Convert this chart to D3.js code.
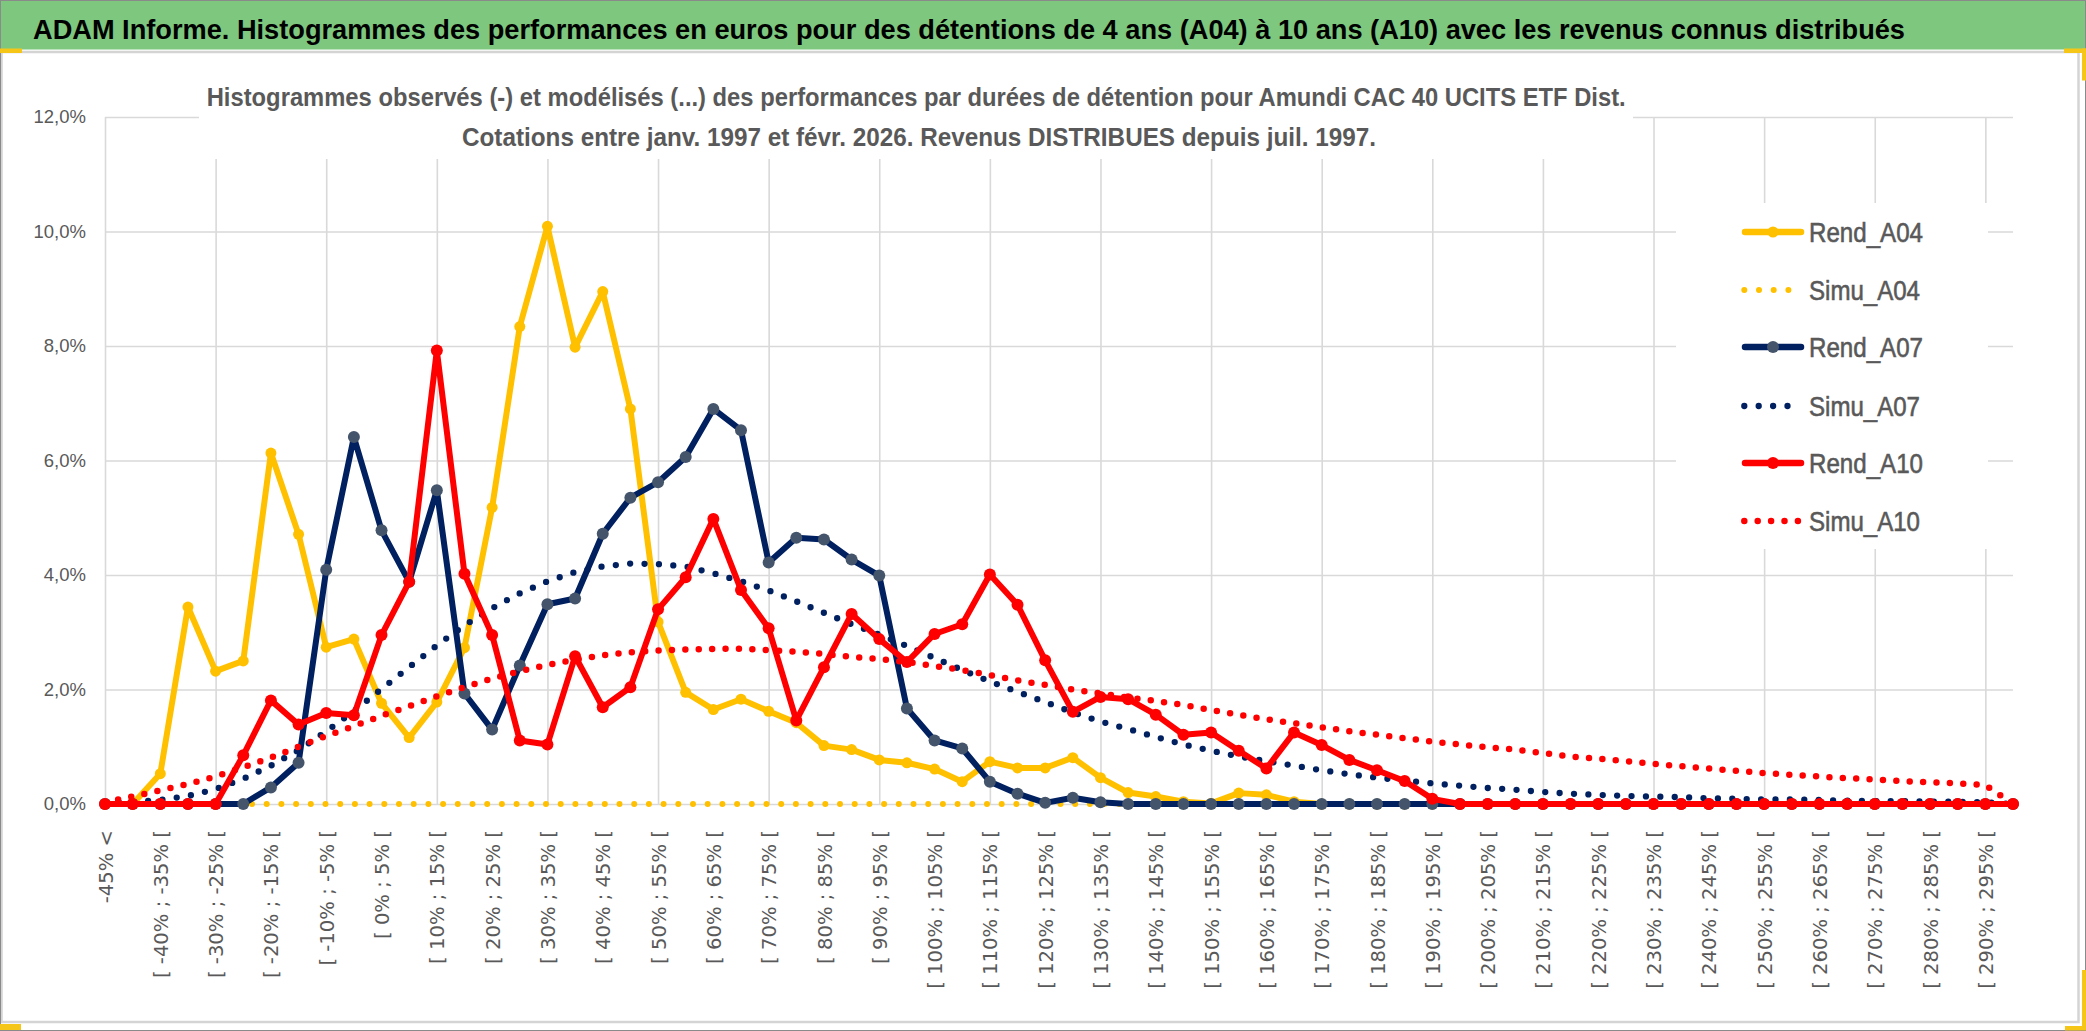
<!DOCTYPE html>
<html><head><meta charset="utf-8">
<script src="https://cdn.jsdelivr.net/npm/d3@7"></script>
<style>body{margin:0;background:#fff}svg{display:block}</style>
</head><body>
<svg id="chart" width="2086" height="1031"></svg>
<script>
// ---------- DATA ----------
const categories = [
"-45% <","[ -45% ; -40% [","[ -40% ; -35% [","[ -35% ; -30% [","[ -30% ; -25% [","[ -25% ; -20% [",
"[ -20% ; -15% [","[ -15% ; -10% [","[ -10% ; -5% [","[ -5% ; 0% [","[ 0% ; 5% [","[ 5% ; 10% [",
"[ 10% ; 15% [","[ 15% ; 20% [","[ 20% ; 25% [","[ 25% ; 30% [","[ 30% ; 35% [","[ 35% ; 40% [",
"[ 40% ; 45% [","[ 45% ; 50% [","[ 50% ; 55% [","[ 55% ; 60% [","[ 60% ; 65% [","[ 65% ; 70% [",
"[ 70% ; 75% [","[ 75% ; 80% [","[ 80% ; 85% [","[ 85% ; 90% [","[ 90% ; 95% [","[ 95% ; 100% [",
"[ 100% ; 105% [","[ 105% ; 110% [","[ 110% ; 115% [","[ 115% ; 120% [","[ 120% ; 125% [","[ 125% ; 130% [",
"[ 130% ; 135% [","[ 135% ; 140% [","[ 140% ; 145% [","[ 145% ; 150% [","[ 150% ; 155% [","[ 155% ; 160% [",
"[ 160% ; 165% [","[ 165% ; 170% [","[ 170% ; 175% [","[ 175% ; 180% [","[ 180% ; 185% [","[ 185% ; 190% [",
"[ 190% ; 195% [","[ 195% ; 200% [","[ 200% ; 205% [","[ 205% ; 210% [","[ 210% ; 215% [","[ 215% ; 220% [",
"[ 220% ; 225% [","[ 225% ; 230% [","[ 230% ; 235% [","[ 235% ; 240% [","[ 240% ; 245% [","[ 245% ; 250% [",
"[ 250% ; 255% [","[ 255% ; 260% [","[ 260% ; 265% [","[ 265% ; 270% [","[ 270% ; 275% [","[ 275% ; 280% [",
"[ 280% ; 285% [","[ 285% ; 290% [","[ 290% ; 295% [","[ 295% ; 300% ["
];

// values in percent
const rendA04 = [0,0,0.53,3.44,2.32,2.50,6.13,4.71,2.74,2.88, 1.76,1.16,1.78,2.73,5.18,8.34,10.09,7.98,8.95,6.90,
 3.18,1.95,1.65,1.83,1.62,1.42,1.02,0.95,0.77,0.72, 0.61,0.39,0.74,0.63,0.63,0.81,0.46,0.20,0.13,0.04,
 0.01,0.19,0.16,0.04,0,0,0,0,0,0, 0,0,0,0,0,0,0,0,0,0, 0,0,0,0,0,0,0,0,0,0];
const simuA04 = [0,0,0,0,0,0,0,0,0,0, 0,0,0,0,0,0,0,0,0,0, 0,0,0,0,0,0,0,0,0,0, 0,0,0,0,0,0,0,0,0,0,
 0,0,0,0,0,0,0,0,0,0, 0,0,0,0,0,0,0,0,0,0, 0,0,0,0,0,0,0,0,0,0];
const rendA07 = [0,0,0,0,0,0,0.29,0.72,4.09,6.41, 4.78,3.88,5.48,1.93,1.30,2.42,3.49,3.59,4.72,5.35,
 5.62,6.06,6.90,6.53,4.22,4.65,4.62,4.27,3.99,1.67, 1.11,0.97,0.39,0.18,0.02,0.11,0.03,0,0,0,
 0,0,0,0,0,0,0,0,0,0, 0,0,0,0,0,0,0,0,0,0, 0,0,0,0,0,0,0,0,0,0];
const simuA07 = [0.01,0.03,0.07,0.14,0.26,0.44,0.67,0.94,1.27,1.62, 2.01,2.39,2.77,3.12,3.42,3.68,3.89,4.05,4.15,4.20,
 4.19,4.15,4.03,3.89,3.73,3.54,3.34,3.14,2.96,2.76, 2.55,2.34,2.14,1.96,1.78,1.60,1.44,1.31,1.17,1.04,
 0.93,0.83,0.75,0.67,0.59,0.52,0.46,0.41,0.36,0.32, 0.28,0.25,0.21,0.18,0.16,0.14,0.13,0.12,0.10,0.09,
 0.08,0.08,0.07,0.06,0.05,0.05,0.04,0.04,0.03,0];
const rendA10 = [0,0,0,0,0,0.85,1.81,1.39,1.59,1.55, 2.95,3.88,7.92,4.02,2.95,1.11,1.04,2.58,1.69,2.04,
 3.40,3.96,4.98,3.74,3.07,1.46,2.39,3.32,2.88,2.48, 2.97,3.14,4.01,3.48,2.51,1.61,1.87,1.83,1.56,1.21,
 1.25,0.93,0.62,1.25,1.03,0.77,0.59,0.40,0.09,0, 0,0,0,0,0,0,0,0,0,0, 0,0,0,0,0,0,0,0,0,0];
const simuA10 = [0.03,0.13,0.24,0.35,0.48,0.64,0.81,1.00,1.19,1.36, 1.54,1.71,1.88,2.04,2.19,2.32,2.43,2.52,2.60,2.65,
 2.68,2.70,2.71,2.71,2.69,2.66,2.62,2.57,2.53,2.48, 2.41,2.34,2.25,2.16,2.08,2.00,1.93,1.86,1.80,1.73,
 1.64,1.56,1.48,1.41,1.34,1.27,1.21,1.15,1.09,1.04, 0.99,0.95,0.89,0.83,0.79,0.75,0.70,0.66,0.62,0.58,
 0.54,0.51,0.48,0.45,0.43,0.40,0.38,0.36,0.33,0];

const seriesNames = ["Rend_A04","Simu_A04","Rend_A07","Simu_A07","Rend_A10","Simu_A10"];
const yTicks = [0,2,4,6,8,10,12];
const titleText = "ADAM Informe. Histogrammes des performances en euros pour des détentions de 4 ans (A04) à 10 ans (A10) avec les revenus connus distribués";
const subtitleLines = [
 "Histogrammes observés (-) et modélisés (...) des performances par durées de détention pour Amundi CAC 40 UCITS ETF Dist.",
 "Cotations entre janv. 1997 et févr. 2026. Revenus DISTRIBUES depuis juil. 1997."
];

// ---------- SETUP ----------
const svg = d3.select("#chart");
const plot = {left:105, right:2013, top:117, bottom:804};
const x = d3.scalePoint().domain(categories).range([plot.left, plot.right]);
const y = d3.scaleLinear().domain([0, 12]).range([plot.bottom, plot.top]);
const CAL = "'Liberation Sans', Arial, sans-serif";
const GREY = "#595959";

svg.append("rect").attr("width",2086).attr("height",1031).attr("fill","#fff");
// title bar
svg.append("rect").attr("x",0).attr("y",0).attr("width",2086).attr("height",49.5).attr("fill","#7DC87E");
svg.append("text").attr("x",33).attr("y",38.5).attr("font-family",CAL).attr("font-weight","bold")
  .attr("font-size",28.5).attr("fill","#000").attr("textLength",1872).attr("lengthAdjust","spacingAndGlyphs").text(titleText);
// chart border
svg.append("rect").attr("x",1.5).attr("y",52).attr("width",2077).attr("height",970)
  .attr("fill","none").attr("stroke","#D4D4D4").attr("stroke-width",2.5);
svg.append("rect").attr("x",0.5).attr("y",0.5).attr("width",2085).attr("height",1030)
  .attr("fill","none").attr("stroke","#8A8A8A").attr("stroke-width",1);

// horizontal grid + y labels
svg.append("g").attr("transform",`translate(${plot.left},0)`)
  .call(d3.axisLeft(y).tickValues(yTicks).tickSize(-(plot.right-plot.left)).tickPadding(19)
        .tickFormat(d => d3.format(".1f")(d).replace(".", ",") + "%"))
  .call(g => g.select(".domain").remove())
  .call(g => g.selectAll(".tick line").attr("stroke","#D9D9D9").attr("stroke-width",1.6))
  .call(g => g.selectAll(".tick text").attr("font-family",CAL).attr("font-size",18.5).attr("fill",GREY));

// vertical grid
const gridCats = categories.filter((d,i) => i % 4 === 0);
svg.append("g").attr("transform",`translate(0,${plot.bottom})`)
  .call(d3.axisBottom(x).tickValues(gridCats).tickSize(-(plot.bottom-plot.top)).tickFormat(""))
  .call(g => g.select(".domain").remove())
  .call(g => g.selectAll(".tick line").attr("stroke","#D9D9D9").attr("stroke-width",1.6));

// x labels
const labelCats = categories.filter((d,i) => i % 2 === 0);
svg.append("g").attr("transform",`translate(0,${plot.bottom})`)
  .call(d3.axisBottom(x).tickValues(labelCats).tickSize(0))
  .call(g => g.select(".domain").remove())
  .call(g => g.selectAll(".tick text")
     .attr("transform","rotate(-90)").attr("text-anchor","end")
     .attr("x",-26).attr("y",0).attr("dy","0.36em")
     .attr("font-family","'DejaVu Sans', Verdana, sans-serif").attr("font-size",19.6).attr("fill",GREY));

// subtitle box
svg.append("rect").attr("x",199).attr("y",56).attr("width",1434).attr("height",103).attr("fill","#fff");
svg.append("text").attr("x",206.7).attr("y",106).attr("font-family",CAL).attr("font-weight","bold")
  .attr("font-size",26).attr("fill",GREY).attr("textLength",1419).attr("lengthAdjust","spacingAndGlyphs").text(subtitleLines[0]);
svg.append("text").attr("x",462).attr("y",146).attr("font-family",CAL).attr("font-weight","bold")
  .attr("font-size",26).attr("fill",GREY).attr("textLength",914).attr("lengthAdjust","spacingAndGlyphs").text(subtitleLines[1]);

// ---------- SERIES ----------
const styles = {
  "Rend_A04": {data: rendA04, color:"#FFC000", width:6, marker:"#FFC000", r:5.5},
  "Simu_A04": {data: simuA04, color:"#FFC000", width:6, dash:14.7},
  "Rend_A07": {data: rendA07, color:"#002060", width:6, marker:"#44546A", r:6},
  "Simu_A07": {data: simuA07, color:"#002060", width:6.3, dash:14.4},
  "Rend_A10": {data: rendA10, color:"#FF0000", width:6, marker:"#FF0000", r:6},
  "Simu_A10": {data: simuA10, color:"#FF0000", width:6.5, dash:13.4}
};
const line = d3.line().x((d,i) => x(categories[i])).y(d => y(d));
seriesNames.forEach(name => {
  const s = styles[name];
  const g = svg.append("g");
  const p = g.append("path").datum(s.data).attr("d", line).attr("fill","none")
    .attr("stroke", s.color).attr("stroke-width", s.width)
    .attr("stroke-linejoin","round").attr("stroke-linecap","round");
  if (s.dash) p.attr("stroke-dasharray", `0 ${s.dash}`);
  if (s.marker) {
    g.selectAll("circle").data(s.data).join("circle")
      .attr("cx",(d,i) => x(categories[i])).attr("cy", d => y(d)).attr("r", s.r)
      .attr("fill", s.marker);
  }
});

// ---------- LEGEND ----------
svg.append("rect").attr("x",1676).attr("y",203).attr("width",312).attr("height",346).attr("fill","#fff");
const legY = [232,290,347,406,463,521];
const legW = [114,111,114,111,114,111];
seriesNames.forEach((name,k) => {
  const s = styles[name];
  const yy = legY[k];
  const g = svg.append("g");
  if (s.dash) {
    g.append("line").attr("x1",1744.3).attr("x2",1800).attr("y1",yy).attr("y2",yy)
     .attr("stroke",s.color).attr("stroke-width",s.width).attr("stroke-linecap","round")
     .attr("stroke-dasharray",`0 ${s.dash}`);
  } else {
    g.append("line").attr("x1",1745).attr("x2",1801).attr("y1",yy).attr("y2",yy)
     .attr("stroke",s.color).attr("stroke-width",6.5).attr("stroke-linecap","round");
    g.append("circle").attr("cx",1773).attr("cy",yy).attr("r",s.r).attr("fill",s.marker);
  }
  g.append("text").attr("x",1809).attr("y",yy+10).attr("font-family",CAL).attr("font-size",28)
   .attr("fill",GREY).attr("stroke",GREY).attr("stroke-width",0.6)
   .attr("textLength",legW[k]).attr("lengthAdjust","spacingAndGlyphs").text(name);
});

// selection handles (yellow corners)
const handles = [[0,48.5,22,4.5],[2064,48.5,22,4.5],[2082,48.5,4,32],[2065,1026,21,4.5],[2082,970,4,60],[0,1024,21,6]];
handles.forEach(h => svg.append("rect").attr("x",h[0]).attr("y",h[1]).attr("width",h[2]).attr("height",h[3]).attr("fill","#F5C518"));
</script>
</body></html>
